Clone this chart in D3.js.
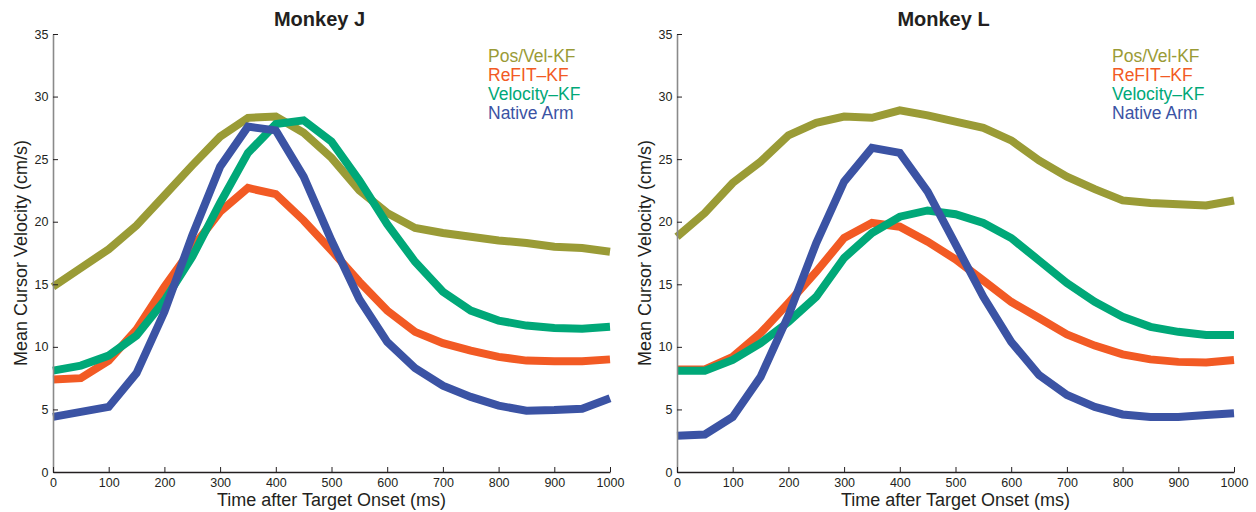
<!DOCTYPE html>
<html>
<head>
<meta charset="utf-8">
<script src="https://cdn.jsdelivr.net/npm/d3@7"></script>
<style>
  body { margin: 0; background: #fff; }
  svg text { font-family: "Liberation Sans", Arial, sans-serif; fill: #231f20; }
</style>
</head>
<body>
<div id="chart"></div>
<script>
// time points (ms)
const timeMs = [0, 50, 100, 150, 200, 250, 300, 350, 400, 450, 500,
                550, 600, 650, 700, 750, 800, 850, 900, 950, 1000];

// Monkey J
const posVelJ = [14.8, 16.3, 17.8, 19.7, 22.1, 24.5, 26.8, 28.3, 28.4, 27.1, 25.1,
                 22.5, 20.7, 19.5, 19.1, 18.8, 18.5, 18.3, 18.0, 17.9, 17.6];
const refitJ  = [7.4, 7.5, 8.9, 11.4, 14.8, 17.9, 20.8, 22.7, 22.2, 20.1, 17.7,
                 15.2, 12.9, 11.2, 10.3, 9.7, 9.2, 8.9, 8.85, 8.85, 9.0];
const velJ    = [8.1, 8.5, 9.3, 10.9, 13.7, 17.2, 21.5, 25.5, 27.8, 28.1, 26.4,
                 23.3, 19.8, 16.8, 14.4, 12.9, 12.1, 11.7, 11.5, 11.45, 11.6];
const nativeJ = [4.4, 4.8, 5.2, 7.9, 12.8, 18.9, 24.4, 27.6, 27.3, 23.6, 18.5,
                 13.8, 10.4, 8.3, 6.9, 6.0, 5.3, 4.9, 4.95, 5.05, 5.9];

// Monkey L
const posVelL = [18.8, 20.7, 23.1, 24.8, 26.9, 27.9, 28.4, 28.3, 28.9, 28.5, 28.0,
                 27.5, 26.5, 24.9, 23.6, 22.6, 21.7, 21.5, 21.4, 21.3, 21.7];
const refitL  = [8.2, 8.2, 9.2, 11.1, 13.5, 16.0, 18.7, 19.9, 19.6, 18.4, 17.0,
                 15.3, 13.6, 12.3, 11.0, 10.1, 9.4, 9.0, 8.8, 8.75, 8.95];
const velL    = [8.1, 8.1, 8.95, 10.3, 12.0, 14.0, 17.1, 19.1, 20.4, 20.9, 20.6,
                 19.9, 18.7, 16.9, 15.1, 13.6, 12.4, 11.6, 11.2, 10.95, 10.95];
const nativeL = [2.9, 3.0, 4.4, 7.6, 12.5, 18.3, 23.2, 25.9, 25.5, 22.4, 18.2,
                 14.0, 10.4, 7.75, 6.15, 5.2, 4.6, 4.4, 4.4, 4.55, 4.7];

const seriesNames = ["Pos/Vel-KF", "ReFIT\u2013KF", "Velocity\u2013KF", "Native Arm"];
const seriesColors = ["#9a9b36", "#f25a24", "#00a878", "#3b53a4"];

const xTicks = [0, 100, 200, 300, 400, 500, 600, 700, 800, 900, 1000];
const yTicks = [0, 5, 10, 15, 20, 25, 30, 35];

const panels = [
  {title: "Monkey J", left: 53, series: [posVelJ, refitJ, velJ, nativeJ]},
  {title: "Monkey L", left: 677, series: [posVelL, refitL, velL, nativeL]}
];

const width = 1256, height = 512;
const plotTop = 34, plotBottom = 472, plotWidth = 557;

const svg = d3.select("#chart")
  .append("svg")
  .attr("width", width)
  .attr("height", height);

panels.forEach(p => {
  const g = svg.append("g").attr("transform", `translate(${p.left},0)`);

  const xScale = d3.scaleLinear().domain([0, 1000]).range([0, plotWidth]);
  const yScale = d3.scaleLinear().domain([0, 35]).range([plotBottom, plotTop]);

  // lines
  const line = d3.line()
    .x((d, i) => xScale(timeMs[i]))
    .y(d => yScale(d));

  p.series.forEach((s, k) => {
    g.append("path")
      .datum(s)
      .attr("fill", "none")
      .attr("stroke", seriesColors[k])
      .attr("stroke-width", 8)
      .attr("stroke-linejoin", "miter")
      .attr("d", line);
  });

  // axes
  const yAxis = g.append("g")
    .call(d3.axisLeft(yScale).tickValues(yTicks).tickSizeInner(-5).tickSizeOuter(0).tickPadding(4.5));
  yAxis.select(".domain").attr("stroke", "#8a8a8a").attr("stroke-width", 1.6);
  yAxis.selectAll(".tick line").attr("stroke", "#231f20");
  yAxis.selectAll(".tick text").attr("font-size", 12.5).attr("fill", "#231f20")
    .style("font-family", "'Liberation Sans', Arial, sans-serif");

  const xAxis = g.append("g")
    .attr("transform", `translate(0,${plotBottom})`)
    .call(d3.axisBottom(xScale).tickValues(xTicks).tickFormat(d3.format("d"))
      .tickSizeInner(-5).tickSizeOuter(0).tickPadding(6));
  xAxis.select(".domain").attr("stroke", "#231f20").attr("stroke-width", 1.3);
  xAxis.selectAll(".tick line").attr("stroke", "#231f20");
  xAxis.selectAll(".tick text").attr("font-size", 12.5).attr("fill", "#231f20")
    .style("font-family", "'Liberation Sans', Arial, sans-serif");

  // title
  g.append("text")
    .attr("x", plotWidth / 2 - 12)
    .attr("y", 26)
    .attr("text-anchor", "middle")
    .attr("font-size", 20)
    .attr("font-weight", "bold")
    .text(p.title);

  // axis labels
  g.append("text")
    .attr("x", plotWidth / 2)
    .attr("y", 506)
    .attr("text-anchor", "middle")
    .attr("font-size", 18)
    .text("Time after Target Onset (ms)");

  g.append("text")
    .attr("transform", `translate(-26,${(plotTop + plotBottom) / 2}) rotate(-90)`)
    .attr("text-anchor", "middle")
    .attr("font-size", 18)
    .text("Mean Cursor Velocity (cm/s)");

  // legend
  seriesNames.forEach((name, k) => {
    g.append("text")
      .attr("x", 435)
      .attr("y", 62 + k * 19)
      .attr("font-size", 17.5)
      .style("fill", seriesColors[k])
      .text(name);
  });
});
</script>
</body>
</html>
